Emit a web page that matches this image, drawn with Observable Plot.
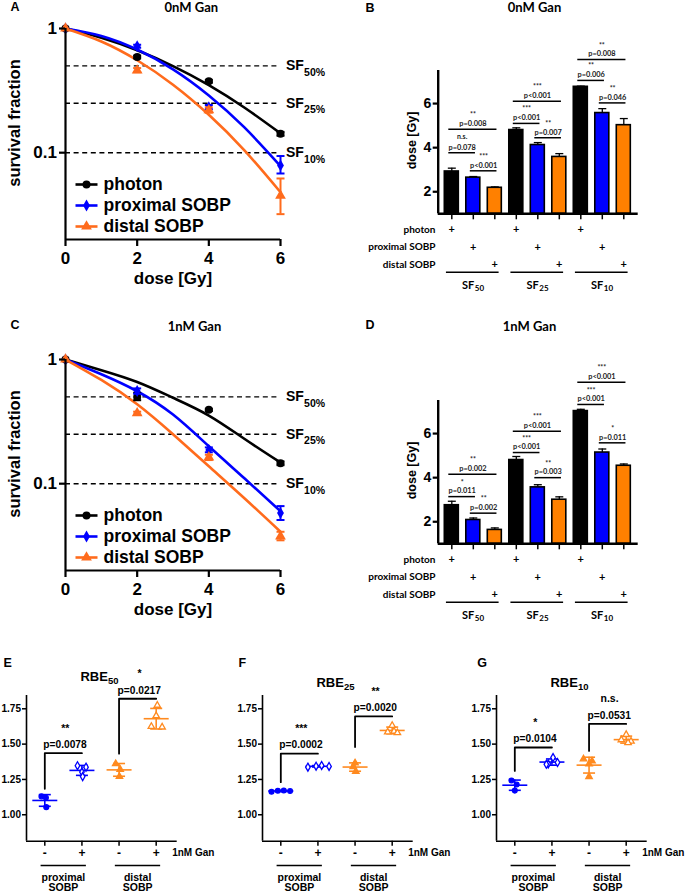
<!DOCTYPE html>
<html><head><meta charset="utf-8">
<script src="https://cdn.jsdelivr.net/npm/d3@7"></script>
<script src="https://cdn.jsdelivr.net/npm/@observablehq/plot@0.6"></script>
<style>
body{margin:0;background:#fff;}
#fig{position:relative;width:685px;height:893px;overflow:hidden;background:#fff}
.panel{position:absolute}
.panel svg{overflow:visible}
</style></head><body><div id="fig"></div>
<script>
// ---------- shared labels ----------
const seriesNames = ["photon", "proximal SOBP", "distal SOBP"];
const sfLevels = [0.5, 0.25, 0.1];
const sfSubs = ["50%", "25%", "10%"];
const doseTicks = [0, 2, 4, 6];
const curveDoses = [0, 1, 2, 3, 4, 5, 6];
const pointDoses = [0, 2, 4, 6];
const sfGroupSubs = ["50", "25", "10"];
const barTicks = [2, 4, 6];
const rbeTicks = [1.00, 1.25, 1.50, 1.75];
const ganTicks = ["-", "+", "-", "+"];
const rbeGroupTop = ["proximal", "distal"];
const rbeGroupBottom = ["SOBP", "SOBP"];

// ---------- panel A (0nM Gan survival) ----------
const photonA = [1, 0.59, 0.376, 0.142];
const photonA_lo = [1, 0.575, 0.366, 0.137];
const photonA_hi = [1, 0.605, 0.386, 0.147];
const proxA = [1, 0.72, 0.233, 0.079];
const proxA_lo = [1, 0.70, 0.224, 0.068];
const proxA_hi = [1, 0.74, 0.242, 0.094];
const distA = [1, 0.46, 0.22, 0.045];
const distA_lo = [1, 0.445, 0.21, 0.032];
const distA_hi = [1, 0.48, 0.232, 0.062];
const photonFitA = [1, 0.843, 0.668, 0.498, 0.350, 0.230, 0.143];
const proxFitA = [1, 0.872, 0.677, 0.469, 0.289, 0.159, 0.078];
const distFitA = [1, 0.786, 0.555, 0.353, 0.202, 0.104, 0.048];

// ---------- panel C (1nM Gan survival) ----------
const photonC = [1, 0.50, 0.393, 0.146];
const photonC_lo = [1, 0.47, 0.385, 0.141];
const photonC_hi = [1, 0.54, 0.401, 0.151];
const proxC = [1, 0.557, 0.187, 0.058];
const proxC_lo = [1, 0.53, 0.179, 0.051];
const proxC_hi = [1, 0.585, 0.196, 0.066];
const distC = [1, 0.37, 0.163, 0.0377];
const distC_lo = [1, 0.36, 0.155, 0.035];
const distC_hi = [1, 0.38, 0.171, 0.041];
const photonFitC = [1, 0.82, 0.659, 0.492, 0.354, 0.229, 0.148];
const proxFitC = [1, 0.76, 0.555, 0.36, 0.2, 0.11, 0.06];
const distFitC = [1, 0.684, 0.436, 0.25, 0.138, 0.076, 0.041];

// ---------- panel B (0nM Gan doses) : [SF50, SF25, SF10] ----------
const photonB = [2.92, 4.80, 6.76];
const photonB_err = [0.15, 0.10, 0.03];
const proxB = [2.64, 4.12, 5.57];
const proxB_err = [0.05, 0.11, 0.20];
const distB = [2.18, 3.58, 5.02];
const distB_err = [0.04, 0.15, 0.30];
const bracketsB = [
  {a: 0, b: 2, y: 4.83, p: "p=0.008", s: "**"},
  {a: 0, b: 1, y: 3.77, p: "p=0.078", s: "n.s."},
  {a: 1, b: 2, y: 2.95, p: "p<0.001", s: "***"},
  {a: 3, b: 5, y: 6.10, p: "p<0.001", s: "***"},
  {a: 3, b: 4, y: 5.10, p: "p<0.001", s: "***"},
  {a: 4, b: 5, y: 4.45, p: "p=0.007", s: "**"},
  {a: 6, b: 8, y: 8.00, p: "p=0.008", s: "**"},
  {a: 6, b: 7, y: 7.05, p: "p=0.006", s: "**"},
  {a: 7, b: 8, y: 6.03, p: "p=0.046", s: "**"}
];

// ---------- panel D (1nM Gan doses) ----------
const photonD = [2.75, 4.80, 7.02];
const photonD_err = [0.18, 0.16, 0.08];
const proxD = [2.08, 3.56, 5.14];
const proxD_err = [0.09, 0.12, 0.16];
const distD = [1.63, 3.00, 4.54];
const distD_err = [0.09, 0.13, 0.08];
const bracketsD = [
  {a: 0, b: 2, y: 4.15, p: "p=0.002", s: "**"},
  {a: 0, b: 1, y: 3.14, p: "p=0.011", s: "*"},
  {a: 1, b: 2, y: 2.39, p: "p=0.002", s: "**"},
  {a: 3, b: 5, y: 6.10, p: "p<0.001", s: "***"},
  {a: 3, b: 4, y: 5.14, p: "p<0.001", s: "***"},
  {a: 4, b: 5, y: 4.00, p: "p=0.003", s: "**"},
  {a: 6, b: 8, y: 8.33, p: "p<0.001", s: "***"},
  {a: 6, b: 7, y: 7.32, p: "p<0.001", s: "***"},
  {a: 7, b: 8, y: 5.58, p: "p=0.011", s: "*"}
];

// ---------- panels E, F, G (RBE) : groups prox-, prox+, dist-, dist+ ----------
const rbe50 = [[1.13, 1.12, 1.054], [1.347, 1.337, 1.302, 1.27], [1.361, 1.321, 1.271], [1.774, 1.70, 1.625, 1.62]];
const rbe50Jit = [[-0.09, 0.03, 0.04], [-0.12, 0.11, 0.0, 0.02], [-0.09, 0.03, 0.01], [0.03, 0.0, -0.13, 0.16]];
const rbe25 = [[1.163, 1.17, 1.172, 1.168], [1.337, 1.344, 1.349, 1.342], [1.366, 1.34, 1.307], [1.632, 1.59, 1.585, 1.58]];
const rbe25Jit = [[-0.25, -0.08, 0.08, 0.25], [-0.27, -0.05, 0.1, 0.3], [0.0, -0.05, 0.02], [0.0, 0.05, -0.12, 0.14]];
const rbe10 = [[1.243, 1.214, 1.171], [1.405, 1.37, 1.36, 1.357], [1.395, 1.38, 1.36, 1.27], [1.567, 1.53, 1.52, 1.51]];
const rbe10Jit = [[-0.09, 0.05, 0.0], [0.03, 0.15, -0.1, -0.15], [-0.15, 0.08, 0.0, 0.0], [0.0, -0.13, 0.13, 0.05]];
const bracketsE = [{a: 0, b: 1, y1: 1.184, y2: 1.436, p: "p=0.0078", s: "**"}, {a: 2, b: 3, y1: 1.432, y2: 1.821, p: "p=0.0217", s: "*"}];
const bracketsF = [{a: 0, b: 1, y1: 1.231, y2: 1.432, p: "p=0.0002", s: "***"}, {a: 2, b: 3, y1: 1.479, y2: 1.696, p: "p=0.0020", s: "**"}];
const bracketsG = [{a: 0, b: 1, y1: 1.31, y2: 1.476, p: "p=0.0104", s: "*"}, {a: 2, b: 3, y1: 1.452, y2: 1.643, p: "p=0.0531", s: "n.s."}];

// ---------- styling ----------
const BLUE = "#0000ff";
const ORANGE_LINE = "#ff6b1c";
const ORANGE_BAR = "#ff8000";
const ORANGE_PT = "#ff8a1f";
const ARIAL = "'Liberation Sans', Arial, sans-serif";
const CAL = "Lato, 'Open Sans', sans-serif";
const BOLD_A = {fontFamily: ARIAL, fontWeight: "bold"};
const BOLD_C = {fontFamily: CAL, fontWeight: "bold"};
const hcap = {draw(ctx, size) { const r = Math.sqrt(size / Math.PI); ctx.moveTo(-r, 0); ctx.lineTo(r, 0); }};
const baseStyle = {fontFamily: ARIAL, fontSize: "12px", background: "transparent", overflow: "visible", color: "#000"};

const fig = document.getElementById("fig");
function put(svg, left, top, w, h) {
  const div = document.createElement("div");
  div.className = "panel";
  div.style.left = left + "px"; div.style.top = top + "px";
  div.style.width = w + "px"; div.style.height = h + "px";
  div.appendChild(svg); fig.appendChild(div);
}

// ---------- survival panel ----------
function survivalPanel(o) {
  const colors = ["#000000", BLUE, ORANGE_LINE];
  const syms = ["circle", "diamond", "triangle"];
  const fitRows = [];
  o.fits.forEach((f, k) => f.forEach((v, j) => fitRows.push({k, d: curveDoses[j], v})));
  const ptRows = [];
  o.pts.forEach((p, k) => p.s.forEach((v, j) => ptRows.push({k, d: pointDoses[j], v, lo: p.lo[j], hi: p.hi[j]})));
  const marks = [
    Plot.ruleY(sfLevels, {x1: 0, x2: 5.93, stroke: "#000", strokeWidth: 1.4, strokeDasharray: "5,3.6"}),
    Plot.text(sfLevels, {x: 6, y: d => d, text: () => "SF", dx: 23.3, textAnchor: "end", lineAnchor: "middle", fontSize: 14, ...BOLD_A}),
    Plot.text(sfLevels, {x: 6, y: d => d, text: (d, i) => sfSubs[i], dx: 23.6, dy: 6.5, textAnchor: "start", lineAnchor: "middle", fontSize: 10.5, ...BOLD_A})
  ];
  for (let k = 0; k < 3; k++) {
    marks.push(Plot.line(fitRows.filter(r => r.k === k), {x: "d", y: "v", curve: "natural", stroke: colors[k], strokeWidth: 2.6}));
  }
  for (let k = 0; k < 3; k++) {
    const rows = ptRows.filter(r => r.k === k);
    const er = rows.filter(r => r.hi > r.lo);
    marks.push(Plot.ruleX(er, {x: "d", y1: "lo", y2: "hi", stroke: colors[k], strokeWidth: 2}));
    marks.push(Plot.dot(er, {x: "d", y: "lo", symbol: hcap, r: 4, stroke: colors[k], fill: "none", strokeWidth: 2}));
    marks.push(Plot.dot(er, {x: "d", y: "hi", symbol: hcap, r: 4, stroke: colors[k], fill: "none", strokeWidth: 2}));
    marks.push(Plot.dot(rows, {x: "d", y: "v", symbol: syms[k], r: k === 1 ? 3.6 : 4, fill: colors[k], stroke: "none"}));
  }
  marks.push(
    Plot.ruleX([0], {stroke: "#000", strokeWidth: 2.2}),
    Plot.ruleY([0.02], {stroke: "#000", strokeWidth: 2.2}),
    Plot.axisY({ticks: [1, 0.1], tickFormat: d => (d >= 1 ? "1" : "0.1"), tickSize: 6, tickPadding: 2.5, fontSize: 17, strokeWidth: 2.2, label: null, ...BOLD_A}),
    Plot.axisX({ticks: doseTicks, tickFormat: d => String(d), tickSize: 7, tickPadding: 5, fontSize: 17, strokeWidth: 2.2, label: null, ...BOLD_A}),
    Plot.text(["survival fraction"], {frameAnchor: "left", dx: -51, dy: -11, rotate: -90, textAnchor: "middle", lineAnchor: "middle", fontSize: 16.5, ...BOLD_A}),
    Plot.text(["dose [Gy]"], {frameAnchor: "bottom", dy: 32, textAnchor: "middle", lineAnchor: "top", fontSize: 17, ...BOLD_A}),
    Plot.text([o.title], {frameAnchor: "top", dx: o.titleDx, dy: o.titleDy, lineAnchor: "middle", fontSize: 13, ...BOLD_C}),
    Plot.text([o.letter], {frameAnchor: "top-left", dx: -55, dy: o.letterDy, textAnchor: "start", lineAnchor: "middle", fontSize: 12.5, ...BOLD_A})
  );
  for (let k = 0; k < 3; k++) {
    const dy = 156 + 21 * k;
    marks.push(
      Plot.dot([k], {frameAnchor: "top-left", dx: 21, dy, symbol: hcap, r: 11, stroke: colors[k], fill: "none", strokeWidth: 2.6}),
      Plot.dot([k], {frameAnchor: "top-left", dx: 21, dy, symbol: syms[k], r: k === 1 ? 3.6 : 4, fill: colors[k], stroke: "none"}),
      Plot.text([seriesNames[k]], {frameAnchor: "top-left", dx: 38, dy, textAnchor: "start", lineAnchor: "middle", fontSize: 17.5, ...BOLD_A})
    );
  }
  return Plot.plot({
    width: 340, height: 300, marginLeft: 65, marginRight: 60, marginTop: 28, marginBottom: 61,
    x: {domain: [0, 6], label: null}, y: {type: "log", domain: [0.02, 1], label: null},
    style: baseStyle, marks
  });
}

// ---------- bar panel ----------
const xDomainBar = [-0.633, 8.67];
const yDomainBar = [1, 7.5];
function barPanel(o) {
  const colors = ["#000000", BLUE, ORANGE_BAR];
  const rows = [];
  for (let g = 0; g < 3; g++) for (let k = 0; k < 3; k++) rows.push({i: 3 * g + k, k, v: o.vals[k][g], e: o.errs[k][g]});
  const y0 = yDomainBar[0];
  const rowDy = [16, 33.4, 51];
  const mid = d => (d.a - 0.14 + d.b + 0.1) / 2;
  const marks = [];
  for (let k = 0; k < 3; k++) {
    const rk = rows.filter(r => r.k === k);
    marks.push(
      Plot.ruleX(rk, {x: "i", y1: "v", y2: d => d.v + d.e, stroke: "#000", strokeWidth: 1.3}),
      Plot.dot(rk, {x: "i", y: d => d.v + d.e, symbol: hcap, r: 4, stroke: "#000", fill: "none", strokeWidth: 1.3}),
      Plot.rect(rk, {x1: d => d.i - 0.326, x2: d => d.i + 0.326, y1: y0, y2: "v", fill: colors[k], stroke: "#000", strokeWidth: 1.6})
    );
  }
  marks.push(
    Plot.ruleX([xDomainBar[0]], {stroke: "#000", strokeWidth: 2.4}),
    Plot.ruleY([y0], {stroke: "#000", strokeWidth: 2.4}),
    Plot.axisY({ticks: barTicks, tickFormat: d => String(d), tickSize: 5, tickPadding: 2, fontSize: 14, strokeWidth: 2.2, label: null, ...BOLD_A}),
    Plot.axisX({ticks: d3.range(9), tickFormat: () => "", tickSize: 6, strokeWidth: 1.5, label: null}),
    Plot.text(["dose [Gy]"], {frameAnchor: "left", dx: -26, dy: -1.7, rotate: -90, textAnchor: "middle", lineAnchor: "middle", fontSize: 12.5, ...BOLD_A}),
    Plot.ruleY(o.brackets, {y: "y", x1: d => d.a - 0.14, x2: d => d.b + 0.1, stroke: "#000", strokeWidth: 1.5}),
    Plot.text(o.brackets, {x: mid, y: "y", text: "p", dy: -5.6, lineAnchor: "middle", fontSize: 7.4, fill: "#222", ...BOLD_C}),
    Plot.text(o.brackets.filter(d => d.s !== "n.s."), {x: mid, y: "y", text: "s", dy: -14.2, lineAnchor: "middle", fontSize: 7, fill: "#222", ...BOLD_C}),
    Plot.text(o.brackets.filter(d => d.s === "n.s."), {x: mid, y: "y", text: "s", dy: -16, lineAnchor: "middle", fontSize: 7, fill: "#222", ...BOLD_C}),
    Plot.ruleY([0, 1, 2], {y: () => y0, x1: g => 3 * g - 0.25, x2: g => 3 * g + 2.2, dy: 58.4, stroke: "#000", strokeWidth: 1.5}),
    Plot.text([0, 1, 2], {x: g => 3 * g + 1, text: () => "SF", frameAnchor: "bottom", dx: 1, dy: 71.7, textAnchor: "end", lineAnchor: "middle", fontSize: 11, ...BOLD_C}),
    Plot.text([0, 1, 2], {x: g => 3 * g + 1, text: g => sfGroupSubs[g], frameAnchor: "bottom", dx: 1.5, dy: 74.5, textAnchor: "start", lineAnchor: "middle", fontSize: 8, ...BOLD_C}),
    Plot.text([o.title], {frameAnchor: "top", dx: o.titleDx, dy: o.titleDy, lineAnchor: "middle", fontSize: 13, ...BOLD_C}),
    Plot.text([o.letter], {frameAnchor: "top-left", dx: -72.7, dy: o.letterDy, textAnchor: "start", lineAnchor: "middle", fontSize: 12.5, ...BOLD_A})
  );
  for (let k = 0; k < 3; k++) {
    marks.push(
      Plot.text(rows.filter(r => r.k === k), {x: "i", text: () => "+", frameAnchor: "bottom", dy: rowDy[k], lineAnchor: "middle", fontSize: 11, ...BOLD_C}),
      Plot.text([seriesNames[k]], {frameAnchor: "bottom-left", dx: -2.7, dy: rowDy[k], textAnchor: "end", lineAnchor: "middle", fontSize: 10, ...BOLD_C})
    );
  }
  return Plot.plot({
    width: 345, height: 300, marginLeft: 97.7, marginRight: 47.3, marginTop: 70, marginBottom: 86.7,
    x: {domain: xDomainBar, label: null}, y: {domain: yDomainBar, label: null},
    style: baseStyle, marks
  });
}

// ---------- RBE panel ----------
const xDomainRbe = [-0.493, 3.566];
const yDomainRbe = [0.813, 1.844];
function rbePanel(o) {
  const colors = [BLUE, BLUE, ORANGE_PT, ORANGE_PT];
  const syms = ["circle", "diamond", "triangle", "triangle"];
  const pts = [], stats = [];
  o.vals.forEach((g, j) => {
    g.forEach((v, n) => pts.push({j, v, x: j + o.jit[j][n]}));
    stats.push({j, m: d3.mean(g), sd: d3.deviation(g)});
  });
  const y0 = yDomainRbe[0];
  const path = [];
  o.brackets.forEach((b, k) => path.push({k, x: b.a, y: b.y1}, {k, x: b.a, y: b.y2}, {k, x: b.b, y: b.y2}));
  const marks = [];
  for (let j = 0; j < 4; j++) {
    const st = stats.filter(s => s.j === j);
    marks.push(
      Plot.ruleX(st, {x: "j", y1: d => d.m - d.sd, y2: d => d.m + d.sd, stroke: colors[j], strokeWidth: 1.6}),
      Plot.dot(st, {x: "j", y: d => d.m - d.sd, symbol: hcap, r: 6, stroke: colors[j], fill: "none", strokeWidth: 1.6}),
      Plot.dot(st, {x: "j", y: d => d.m + d.sd, symbol: hcap, r: 6, stroke: colors[j], fill: "none", strokeWidth: 1.6}),
      Plot.dot(st, {x: "j", y: "m", symbol: hcap, r: 12.5, stroke: colors[j], fill: "none", strokeWidth: 1.6}),
      Plot.dot(pts.filter(p => p.j === j), {x: "x", y: "v", symbol: syms[j], r: 2.4, fill: j % 2 === 0 ? colors[j] : "#fff", stroke: colors[j], strokeWidth: 1.3})
    );
  }
  marks.push(
    Plot.line(path, {x: "x", y: "y", z: "k", stroke: "#000", strokeWidth: 1.8}),
    Plot.text(o.brackets, {x: "a", y: "y2", text: "p", textAnchor: "start", dx: -1.5, dy: -8.5, lineAnchor: "middle", fontSize: 10.2, ...BOLD_A}),
    Plot.text(o.brackets, {x: "a", y: "y2", text: "s", textAnchor: "middle", dx: 20.5, dy: -25, lineAnchor: "middle", fontSize: 10.5, ...BOLD_A}),
    Plot.ruleX([xDomainRbe[0]], {stroke: "#000", strokeWidth: 1.6}),
    Plot.ruleY([y0], {stroke: "#000", strokeWidth: 1.6}),
    Plot.axisY({ticks: rbeTicks, tickFormat: d3.format(".2f"), tickSize: 4, tickPadding: 1.5, fontSize: 10, strokeWidth: 1.5, label: null, ...BOLD_A}),
    Plot.axisX({ticks: [0, 1, 2, 3], tickFormat: d => ganTicks[d], tickSize: 5, tickPadding: 2, fontSize: 12, strokeWidth: 1.5, label: null, ...BOLD_A}),
    Plot.text(["1nM Gan"], {x: 3, frameAnchor: "bottom", dx: 16, dy: 11.6, textAnchor: "start", lineAnchor: "middle", fontSize: 10, ...BOLD_A}),
    Plot.ruleY([0, 1], {y: () => y0, x1: g => 2 * g - 0.1, x2: g => 2 * g + 1.12, dy: 24.3, stroke: "#000", strokeWidth: 1.5}),
    Plot.text([0, 1], {x: g => 2 * g + 0.5, text: g => rbeGroupTop[g], frameAnchor: "bottom", dy: 36, lineAnchor: "middle", fontSize: 10.5, ...BOLD_A}),
    Plot.text([0, 1], {x: g => 2 * g + 0.5, text: g => rbeGroupBottom[g], frameAnchor: "bottom", dy: 46.3, lineAnchor: "middle", fontSize: 10.5, ...BOLD_A}),
    Plot.text(["RBE"], {x: 1.7, frameAnchor: "top", dy: o.titleDy, textAnchor: "end", lineAnchor: "middle", fontSize: 13, ...BOLD_A}),
    Plot.text([o.sub], {x: 1.7, frameAnchor: "top", dy: o.titleDy + 4, textAnchor: "start", lineAnchor: "middle", fontSize: 9.5, ...BOLD_A}),
    Plot.text([o.letter], {frameAnchor: "top-left", dx: o.letterDx, dy: -33, textAnchor: "start", lineAnchor: "middle", fontSize: 12.5, ...BOLD_A})
  );
  return Plot.plot({
    width: 230, height: 293, marginLeft: 26, marginRight: 53.3, marginTop: 95, marginBottom: 52.3,
    x: {domain: xDomainRbe, label: null}, y: {domain: yDomainRbe, label: null},
    style: baseStyle, marks
  });
}

// ---------- build ----------
put(survivalPanel({
  title: "0nM Gan", letter: "A", titleDx: 18.3, titleDy: -20.5, letterDy: -21.5,
  fits: [photonFitA, proxFitA, distFitA],
  pts: [{s: photonA, lo: photonA_lo, hi: photonA_hi}, {s: proxA, lo: proxA_lo, hi: proxA_hi}, {s: distA, lo: distA_lo, hi: distA_hi}]
}), 0, 0, 340, 300);
put(survivalPanel({
  title: "1nM Gan", letter: "C", titleDx: 21.5, titleDy: -33, letterDy: -34.5,
  fits: [photonFitC, proxFitC, distFitC],
  pts: [{s: photonC, lo: photonC_lo, hi: photonC_hi}, {s: proxC, lo: proxC_lo, hi: proxC_hi}, {s: distC, lo: distC_lo, hi: distC_hi}]
}), 0, 331, 340, 300);
put(barPanel({
  title: "0nM Gan", letter: "B", titleDx: -3.7, titleDy: -62.3, letterDy: -63,
  vals: [photonB, proxB, distB], errs: [photonB_err, proxB_err, distB_err], brackets: bracketsB
}), 340, 0, 345, 300);
put(barPanel({
  title: "1nM Gan", letter: "D", titleDx: -8.7, titleDy: -74, letterDy: -75.5,
  vals: [photonD, proxD, distD], errs: [photonD_err, proxD_err, distD_err], brackets: bracketsD
}), 340, 330, 345, 300);
put(rbePanel({vals: rbe50, jit: rbe50Jit, brackets: bracketsE, sub: "50", letter: "E", letterDx: -23, titleDy: -18.3}), 0, 600, 230, 293);
put(rbePanel({vals: rbe25, jit: rbe25Jit, brackets: bracketsF, sub: "25", letter: "F", letterDx: -24, titleDy: -13}), 236.3, 600, 230, 293);
put(rbePanel({vals: rbe10, jit: rbe10Jit, brackets: bracketsG, sub: "10", letter: "G", letterDx: -19.3, titleDy: -13}), 470, 600, 230, 293);
</script></body></html>
